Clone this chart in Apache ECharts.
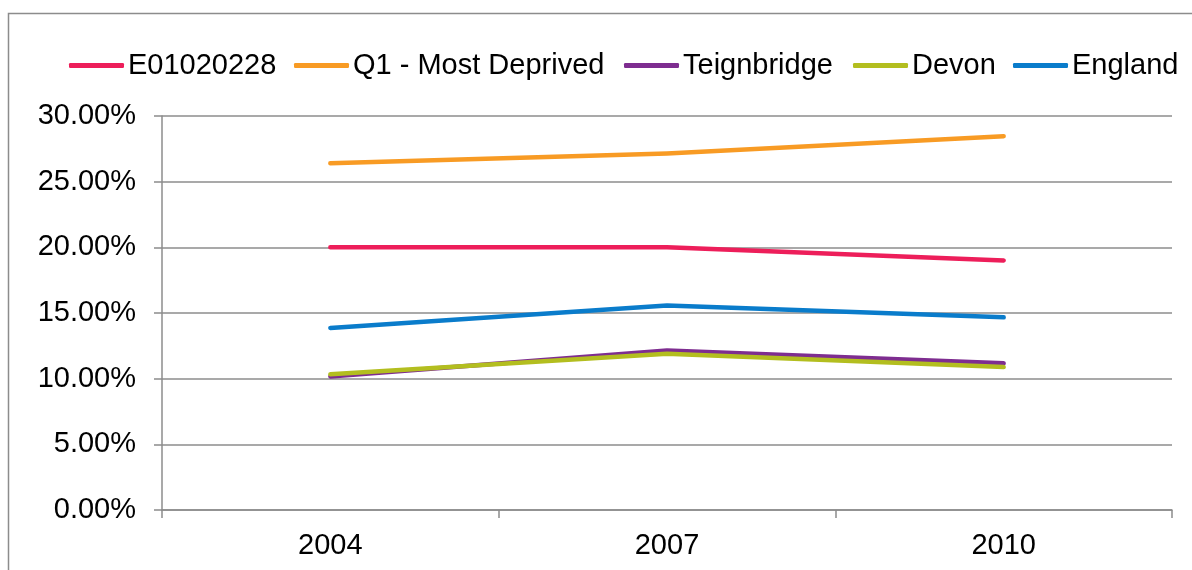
<!DOCTYPE html>
<html>
<head>
<meta charset="utf-8">
<script src="https://cdn.jsdelivr.net/npm/echarts@6/dist/echarts.min.js"></script>
<style>
  html, body { margin: 0; padding: 0; background: #fff; }
  #chart { width: 1192px; height: 570px; }
</style>
</head>
<body>
<div id="chart"></div>
<script>
// years on the x axis
const years = ['2004', '2007', '2010']
// series names and values (percent)
const seriesNames = ['E01020228', 'Q1 - Most Deprived', 'Teignbridge', 'Devon', 'England']
const e01020228 = [20.0, 20.0, 19.0]
const q1MostDeprived = [26.4, 27.15, 28.46]
const teignbridge = [10.17, 12.14, 11.18]
const devon = [10.33, 11.89, 10.88]
const england = [13.86, 15.58, 14.67]
const seriesColors = ['#ED1E5A', '#F89B24', '#7E2D90', '#B3BE1F', '#0A7CCB']
const legendLeft = [69, 294, 624, 853, 1013]

const allValues = [e01020228, q1MostDeprived, teignbridge, devon, england]
const font = 'Arial, "Liberation Sans", sans-serif'

const chart = echarts.init(document.getElementById('chart'))
chart.setOption({
  animation: false,
  backgroundColor: '#fff',
  graphic: [{
    type: 'rect',
    shape: { x: 8.5, y: 13.5, width: 1300, height: 700 },
    style: { fill: 'none', stroke: '#8c8c8c', lineWidth: 1.5 },
    silent: true
  }],
  legend: seriesNames.map((name, i) => ({
    data: [name],
    left: legendLeft[i],
    top: 51,
    padding: 0,
    icon: 'roundRect',
    itemWidth: 55,
    itemHeight: 5,
    itemGap: 0,
    textStyle: { fontSize: 29, fontFamily: font, color: '#000', padding: [0, 0, 0, -1] }
  })),
  grid: { left: 162, right: 20, top: 116, bottom: 60 },
  xAxis: {
    type: 'category',
    data: years,
    boundaryGap: true,
    axisLine: { lineStyle: { color: '#8c8c8c', width: 1.5 } },
    axisTick: { show: true, length: 8, inside: false, lineStyle: { color: '#8c8c8c', width: 1.5 } },
    axisLabel: { fontSize: 29, fontFamily: font, color: '#000', margin: 21 }
  },
  yAxis: {
    type: 'value',
    min: 0,
    max: 30,
    interval: 5,
    axisLine: { show: true, lineStyle: { color: '#8c8c8c', width: 1.5 } },
    axisTick: { show: true, length: 8, inside: false, lineStyle: { color: '#8c8c8c', width: 1.5 } },
    splitLine: { show: true, lineStyle: { color: '#8c8c8c', width: 1.5 } },
    axisLabel: {
      fontSize: 29, fontFamily: font, color: '#000', margin: 26,
      formatter: v => v.toFixed(2) + '%'
    }
  },
  series: seriesNames.map((name, i) => ({
    name: name,
    type: 'line',
    data: allValues[i],
    showSymbol: false,
    symbol: 'none',
    color: seriesColors[i],
    lineStyle: { width: 4.5, color: seriesColors[i], cap: 'round', join: 'round' }
  }))
})
</script>
</body>
</html>
